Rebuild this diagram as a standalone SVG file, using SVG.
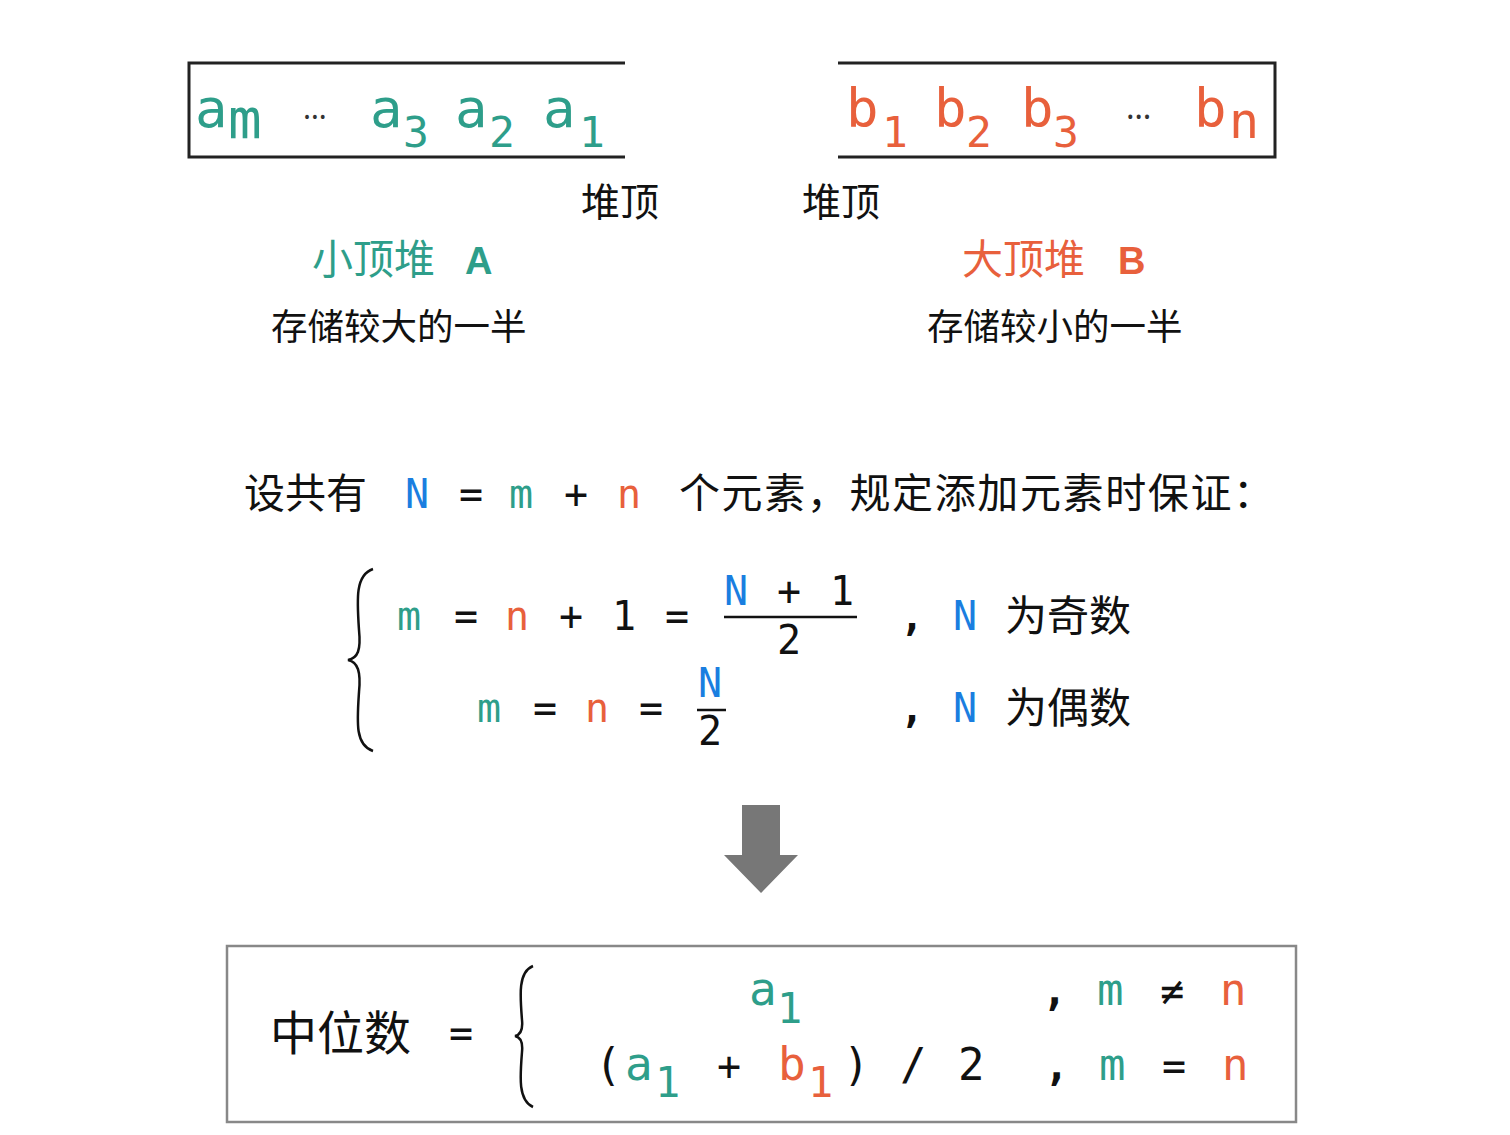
<svg xmlns="http://www.w3.org/2000/svg" width="1510" height="1135" viewBox="0 0 1510 1135">
<style>
.m{font-family:"DejaVu Sans Mono","Liberation Mono",monospace}
.c{font-family:"Noto Sans CJK SC","Noto Sans",sans-serif}
.d{font-family:"Noto Sans","DejaVu Sans",sans-serif;fill:#333}
.t{fill:#2e9e8a}
.o{fill:#e8603c}
.b{fill:#1a7ee0}
.k{fill:#111}
.ln{stroke:#222;stroke-width:3;fill:none}
</style>
<rect width="1510" height="1135" fill="#fff"/>
<g id="heapA">
<path class="ln" d="M625 63 H189 V157 H625"/>
<text class="m t" font-size="54" x="195" y="127">a</text>
<text class="m t" font-size="56" x="228" y="138">m</text>
<text class="d" font-size="30" x="303" y="119">…</text>
<text class="m t" font-size="54" x="370" y="127">a</text>
<text class="m t" font-size="43" x="403" y="147">3</text>
<text class="m t" font-size="54" x="455" y="127">a</text>
<text class="m t" font-size="43" x="489" y="147">2</text>
<text class="m t" font-size="54" x="543" y="127">a</text>
<text class="m t" font-size="43" x="579" y="147">1</text>
</g>
<g id="heapB">
<path class="ln" d="M838 63 H1275 V157 H838"/>
<text class="m o" font-size="54" x="846" y="127">b</text>
<text class="m o" font-size="43" x="882" y="147">1</text>
<text class="m o" font-size="54" x="934" y="127">b</text>
<text class="m o" font-size="43" x="966" y="147">2</text>
<text class="m o" font-size="54" x="1021" y="127">b</text>
<text class="m o" font-size="43" x="1053" y="147">3</text>
<text class="d" font-size="32" x="1126" y="119">…</text>
<text class="m o" font-size="54" x="1194" y="127">b</text>
<text class="m o" font-size="50" x="1229" y="138">n</text>
</g>
<g id="labels">
<text class="c k" font-size="39" x="581" y="216">堆顶</text>
<text class="c k" font-size="39" x="802" y="216">堆顶</text>
<text class="c t" font-size="41" x="312" y="274">小顶堆</text>
<text class="t" font-size="38" font-weight="bold" font-family="Liberation Sans,sans-serif" x="465" y="274">A</text>
<text class="c k" font-size="36.5" x="271" y="340">存储较大的一半</text>
<text class="c o" font-size="41" x="962" y="274">大顶堆</text>
<text class="o" font-size="38" font-weight="bold" font-family="Liberation Sans,sans-serif" x="1118" y="274">B</text>
<text class="c k" font-size="36.5" x="927" y="340">存储较小的一半</text>
</g>
<g id="rule">
<text class="c k" font-size="41" x="244" y="508">设共有</text>
<text class="m b" font-size="40" x="405" y="508">N</text>
<text class="m k" font-size="40" x="459" y="508">=</text>
<text class="m t" font-size="40" x="509" y="508">m</text>
<text class="m k" font-size="40" x="564" y="508">+</text>
<text class="m o" font-size="40" x="617" y="508">n</text>
<text class="c k" font-size="41" x="679" y="508" textLength="595" lengthAdjust="spacing">个元素，规定添加元素时保证：</text>
</g>
<g id="cases">
<path d="M373 569 C355 575 357 600 359 630 C361 650 358 658 348 660 C358 662 361 672 359 692 C357 722 355 745 373 751" stroke="#111" stroke-width="2.5" fill="none"/>
<text class="m t" font-size="40" x="397" y="630">m</text>
<text class="m k" font-size="40" x="454" y="630">=</text>
<text class="m o" font-size="40" x="505" y="630">n</text>
<text class="m k" font-size="40" x="559" y="630">+</text>
<text class="m k" font-size="40" x="612" y="630">1</text>
<text class="m k" font-size="40" x="665" y="630">=</text>
<text class="m b" font-size="40" x="724" y="605">N</text>
<text class="m k" font-size="40" x="777" y="605">+</text>
<text class="m k" font-size="40" x="830" y="605">1</text>
<line x1="724" y1="617" x2="857" y2="617" stroke="#111" stroke-width="2.5"/>
<text class="m k" font-size="40" x="777" y="654">2</text>
<text class="m k" font-size="40" font-weight="bold" x="900" y="630">,</text>
<text class="m b" font-size="40" x="953" y="630">N</text>
<text class="c k" font-size="42" x="1005" y="631">为奇数</text>
<text class="m t" font-size="40" x="477" y="722">m</text>
<text class="m k" font-size="40" x="533" y="722">=</text>
<text class="m o" font-size="40" x="585" y="722">n</text>
<text class="m k" font-size="40" x="639" y="722">=</text>
<text class="m b" font-size="40" x="698" y="697">N</text>
<line x1="697" y1="710" x2="726" y2="710" stroke="#111" stroke-width="2.5"/>
<text class="m k" font-size="40" x="698" y="745">2</text>
<text class="m k" font-size="40" font-weight="bold" x="900" y="722">,</text>
<text class="m b" font-size="40" x="953" y="722">N</text>
<text class="c k" font-size="42" x="1005" y="723">为偶数</text>
</g>
<g id="connectors">
<polygon points="742,805 780,805 780,855 798,855 761,893 724,855 742,855" fill="#777"/>
</g>
<g id="median">
<rect x="227" y="946" width="1069" height="176" fill="none" stroke="#888" stroke-width="2.5"/>
<text class="c k" font-size="47" x="270" y="1050">中位数</text>
<text class="m k" font-size="40" x="449" y="1047">=</text>
<path d="M533 966 C518 972 520 995 522 1020 C523 1030 520 1035 515 1036 C520 1037 523 1042 522 1052 C520 1077 518 1100 533 1107" stroke="#111" stroke-width="2.5" fill="none"/>
<text class="m t" font-size="46" x="749" y="1005">a</text>
<text class="m t" font-size="42" x="777" y="1023">1</text>
<text class="m k" font-size="42" font-weight="bold" x="1042" y="1005">,</text>
<text class="m t" font-size="44" x="1097" y="1005">m</text>
<text class="m k" font-size="40" x="1160" y="1005">≠</text>
<text class="m o" font-size="44" x="1220" y="1005">n</text>
<text class="m k" font-size="44" x="595" y="1080">(</text>
<text class="m t" font-size="46" x="625" y="1080">a</text>
<text class="m t" font-size="42" x="655" y="1097">1</text>
<text class="m k" font-size="40" x="717" y="1080">+</text>
<text class="m o" font-size="46" x="778" y="1080">b</text>
<text class="m o" font-size="42" x="808" y="1097">1</text>
<text class="m k" font-size="44" x="843" y="1080">)</text>
<text class="m k" font-size="44" x="900" y="1080">/</text>
<text class="m k" font-size="44" x="958" y="1080">2</text>
<text class="m k" font-size="42" font-weight="bold" x="1044" y="1080">,</text>
<text class="m t" font-size="44" x="1099" y="1080">m</text>
<text class="m k" font-size="40" x="1162" y="1080">=</text>
<text class="m o" font-size="44" x="1222" y="1080">n</text>
</g>
</svg>
